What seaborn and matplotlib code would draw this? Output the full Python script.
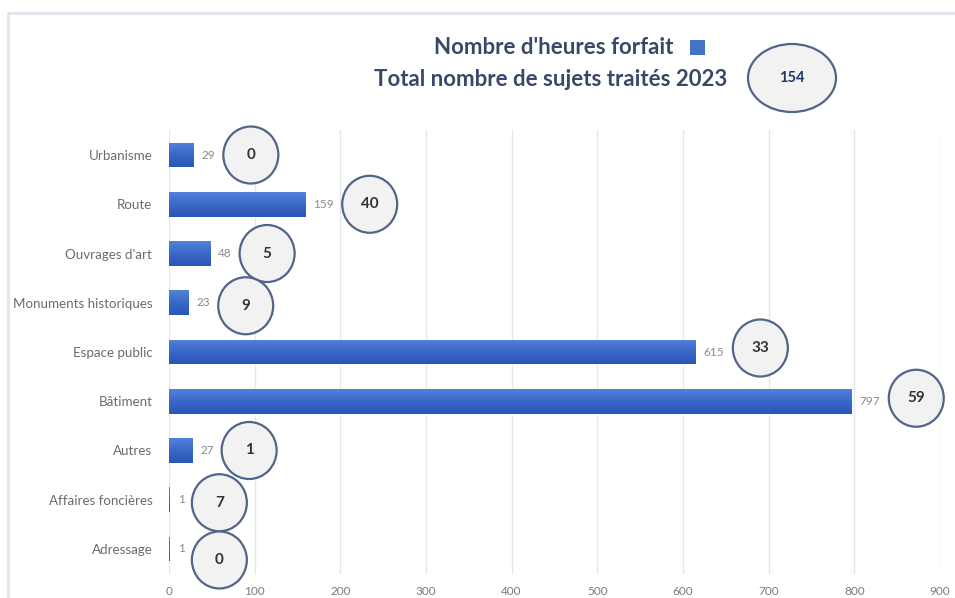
import numpy as np
import pandas as pd
import matplotlib
matplotlib.use("Agg")
import matplotlib.pyplot as plt
import seaborn as sns
from matplotlib.lines import Line2D
from matplotlib.patches import Ellipse, Rectangle
from matplotlib.colors import LinearSegmentedColormap

# Data
categories = ["Urbanisme", "Route", "Ouvrages d'art", "Monuments historiques",
              "Espace public", "Bâtiment", "Autres", "Affaires foncières", "Adressage"]
heures = [29, 159, 48, 23, 615, 797, 27, 1, 1]
sujets = [0, 40, 5, 9, 33, 59, 1, 7, 0]
total_sujets = 154
xticks = [0, 100, 200, 300, 400, 500, 600, 700, 800, 900]

df = pd.DataFrame({"categorie": categories, "heures": heures, "sujets": sujets})

sns.set_theme(style="white")
plt.rcParams["font.family"] = ["Lato", "DejaVu Sans"]

W, H = 955, 598
fig = plt.figure(figsize=(W / 100, H / 100), dpi=100)
fig.patch.set_facecolor("white")

# axes placement in pixels
left, right, top, bottom = 169, 940, 130.4, 573.6
ax = fig.add_axes([left / W, 1 - bottom / H, (right - left) / W, (bottom - top) / H])

bar_color = "#3b69c9"
sns.barplot(data=df, x="heures", y="categorie", orient="h", color=bar_color,
            width=0.5, ax=ax, zorder=3, saturation=1)

ax.set_xlim(0, 900)
ax.set_ylim(len(categories) - 0.5, -0.5)
ax.set_xticks(xticks)
ax.set_xlabel("")
ax.set_ylabel("")
ax.grid(axis="x", color="#e3e7ee", lw=1, zorder=0)
ax.grid(axis="y", visible=False)
for s in ax.spines.values():
    s.set_visible(False)
ax.tick_params(axis="x", length=0, pad=9, labelsize=8.5, labelcolor="#7a7a7a")
ax.tick_params(axis="y", length=0, pad=12, labelsize=9.6, labelcolor="#6b6b6b")

# vertical gradient on the bars (lighter top, darker bottom)
grad = LinearSegmentedColormap.from_list("bar", ["#5282da", "#3a68c8", "#2a56b5"])
for p in list(ax.patches):
    x0, y0 = p.get_x(), p.get_y()
    w, h = p.get_width(), p.get_height()
    im = ax.imshow(np.linspace(0, 1, 50).reshape(-1, 1), cmap=grad, aspect="auto",
                   extent=(x0, x0 + w, y0 + h, y0), origin="upper", zorder=3.5,
                   interpolation="bilinear")
    im.set_clip_path(p)
ax.set_xlim(0, 900)
ax.set_ylim(len(categories) - 0.5, -0.5)

# pixel -> data helpers
px_x = 900 / (right - left)
px_y = (len(categories)) / (bottom - top)

# value labels and circles with number of subjects
circle_dy = [0, 0, 0, 3, -4, -3, 0, 3, 11]  # small vertical shifts seen in the picture
for i, (h, n) in enumerate(zip(heures, sujets)):
    lab = str(h)
    ax.text(h + 8 * px_x, i, lab, va="center", ha="left", fontsize=8.5,
            color="#8a8a8a", zorder=4)
    off = 42 + 7.5 * len(lab)
    cx = h + off * px_x
    cy = i + circle_dy[i] * px_y
    ax.add_patch(Ellipse((cx, cy), 55 * px_x, 57 * px_y, facecolor="#f2f2f2",
                         edgecolor="#52648a", lw=1.6, zorder=5, clip_on=False))
    ax.text(cx, cy, str(n), ha="center", va="center", fontsize=11,
            fontweight="bold", color="#333333", zorder=6)

# title
title_color = "#3a4868"
fig.text(554 / W, 1 - 47 / H, "Nombre d'heures forfait", ha="center", va="center",
         fontsize=16, fontweight="bold", color=title_color)
fig.patches.append(Rectangle((690 / W, 1 - 55 / H), 15 / W, 15 / H,
                             transform=fig.transFigure, facecolor="#4472c4",
                             edgecolor="none"))
fig.text(551 / W, 1 - 79 / H, "Total nombre de sujets traités 2023", ha="center",
         va="center", fontsize=16, fontweight="bold", color=title_color)
fig.patches.append(Ellipse((792 / W, 1 - 78 / H), 88 / W, 68 / H,
                           transform=fig.transFigure, facecolor="#f2f2f2",
                           edgecolor="#52648a", lw=1.6))
fig.text(792 / W, 1 - 78 / H, str(total_sujets), ha="center", va="center",
         fontsize=10.5, fontweight="bold", color="#1f3864")

# light frame around the chart
fig.lines.append(Line2D([8 / W, 8 / W], [0, 1 - 13 / H], transform=fig.transFigure,
                        color="#e1e5ec", lw=2))
fig.lines.append(Line2D([8 / W, 1], [1 - 13 / H, 1 - 13 / H], transform=fig.transFigure,
                        color="#e1e5ec", lw=2))

fig.savefig("out.png", dpi=100)
